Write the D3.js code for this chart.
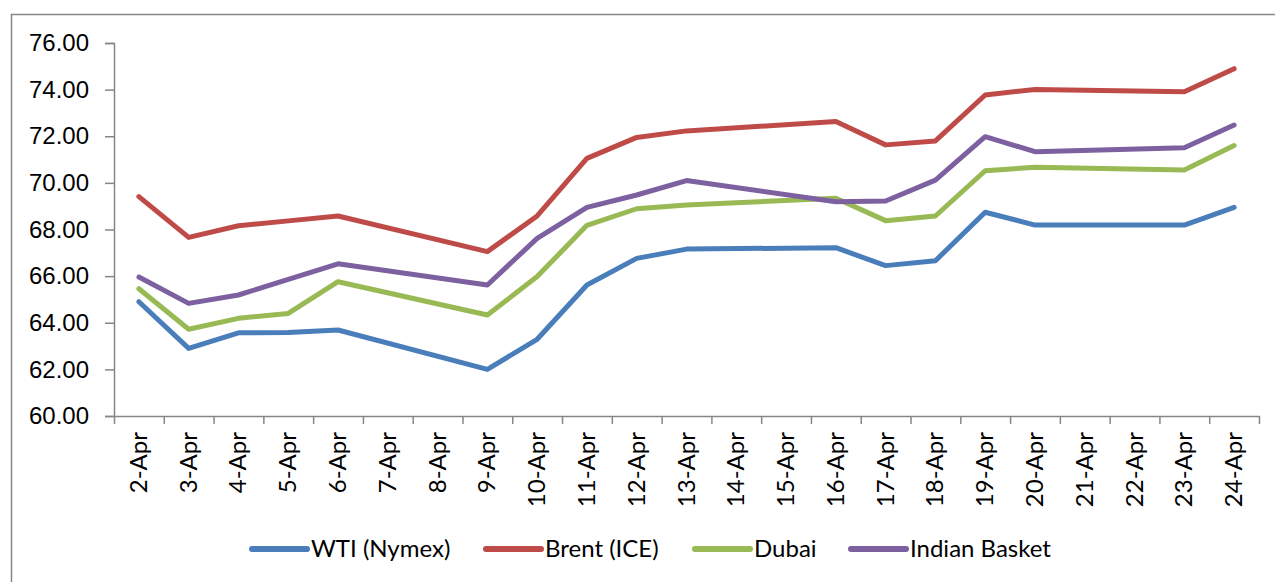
<!DOCTYPE html>
<html>
<head>
<meta charset="utf-8">
<script src="https://cdn.jsdelivr.net/npm/d3@7"></script>
<style>
  body { margin: 0; background: #fff; }
  svg { font-family: Lato, "Open Sans", sans-serif; }
</style>
</head>
<body>
<div id="chart"></div>
<script>
// categories and series (null = no quote that day)
const days = ['2-Apr', '3-Apr', '4-Apr', '5-Apr', '6-Apr', '7-Apr', '8-Apr', '9-Apr', '10-Apr', '11-Apr',
  '12-Apr', '13-Apr', '14-Apr', '15-Apr', '16-Apr', '17-Apr', '18-Apr', '19-Apr', '20-Apr', '21-Apr',
  '22-Apr', '23-Apr', '24-Apr'];
const wti = [64.90, 62.90, 63.57, 63.58, 63.69, null, null, 62.00, 63.29, 65.62, 66.76, 67.16, null, null,
  67.22, 66.45, 66.66, 68.74, 68.19, null, null, 68.19, 68.95];
const brent = [69.41, 67.66, 68.16, 68.37, 68.58, null, null, 67.05, 68.58, 71.05, 71.95, 72.23, null, null,
  72.63, 71.63, 71.80, 73.77, 74.01, null, null, 73.91, 74.90];
const dubai = [65.46, 63.72, 64.19, 64.40, 65.76, null, null, 64.33, 65.98, 68.18, 68.89, 69.05, null, null,
  69.34, 68.38, 68.58, 70.52, 70.67, null, null, 70.55, 71.60];
const indian = [65.96, 64.83, 65.19, 65.86, 66.53, null, null, 65.62, 67.62, 68.95, 69.48, 70.10, null, null,
  69.19, 69.22, 70.12, 71.98, 71.34, null, null, 71.51, 72.48];
const yTicks = [60, 62, 64, 66, 68, 70, 72, 74, 76];

const series = [
  { name: 'WTI (Nymex)', values: wti, color: '#4a7ebb' },
  { name: 'Brent (ICE)', values: brent, color: '#be4b48' },
  { name: 'Dubai', values: dubai, color: '#98b954' },
  { name: 'Indian Basket', values: indian, color: '#7d60a0' }
];

const width = 1275, height = 582;
const plot = { left: 114, right: 1259, top: 43, bottom: 416 };

let svg = d3.select('#chart').append('svg').attr('width', width).attr('height', height);

// outer chart border
svg.append('rect')
  .attr('x', 11.5).attr('y', 14.5)
  .attr('width', 1300).attr('height', 600)
  .style('fill', 'none')
  .style('stroke', '#868686')
  .style('stroke-width', 1.5);

let x = d3.scaleBand().domain(days).range([plot.left, plot.right]).padding(0);
let xEdge = d3.scaleLinear().domain([0, days.length]).range([plot.left, plot.right]);
let y = d3.scaleLinear().domain([60, 76]).range([plot.bottom, plot.top]);

// y axis
let yAxis = svg.append('g')
  .attr('transform', `translate(${plot.left},0)`)
  .call(d3.axisLeft(y).tickValues(yTicks).tickFormat(d3.format('.2f')).tickSize(9).tickPadding(16));
yAxis.select('.domain').attr('stroke', '#868686').attr('stroke-width', 1.5);
yAxis.selectAll('.tick line').attr('stroke', '#868686').attr('stroke-width', 1.5);
yAxis.selectAll('.tick text').style('font-size', '24px').style('fill', '#000');

// x axis: ticks on category edges
let xAxis = svg.append('g')
  .attr('transform', `translate(0,${plot.bottom})`)
  .call(d3.axisBottom(xEdge).tickValues(d3.range(0, days.length + 1)).tickFormat('').tickSizeInner(8).tickSizeOuter(0));
xAxis.select('.domain').attr('stroke', '#868686').attr('stroke-width', 1.5);
xAxis.selectAll('.tick line').attr('stroke', '#868686').attr('stroke-width', 1.5);

svg.append('g').selectAll('text')
  .data(days)
  .join('text')
  .attr('transform', d => `translate(${x(d) + x.bandwidth() / 2 + 8},${plot.bottom + 16}) rotate(-90)`)
  .style('text-anchor', 'end')
  .style('font-size', '24px')
  .text(d => d);

// lines, skipping the days with no quote
let line = d3.line()
  .x(d => x(d[0]) + x.bandwidth() / 2)
  .y(d => y(d[1]));

series.forEach(s => {
  let pts = days.map((d, i) => [d, s.values[i]]).filter(p => p[1] !== null);
  svg.append('path')
    .attr('d', line(pts))
    .style('fill', 'none')
    .style('stroke', s.color)
    .style('stroke-width', 5)
    .style('stroke-linejoin', 'round')
    .style('stroke-linecap', 'round');
});

// legend
const legendX = [252, 486, 695, 851];
series.forEach((s, i) => {
  let g = svg.append('g').attr('transform', `translate(${legendX[i]},549)`);
  g.append('line')
    .attr('x1', 0).attr('x2', 55)
    .style('stroke', s.color)
    .style('stroke-width', 6)
    .style('stroke-linecap', 'round');
  g.append('text')
    .attr('x', 59)
    .attr('y', 8)
    .style('font-size', '24px')
    .text(s.name);
});
</script>
</body>
</html>
